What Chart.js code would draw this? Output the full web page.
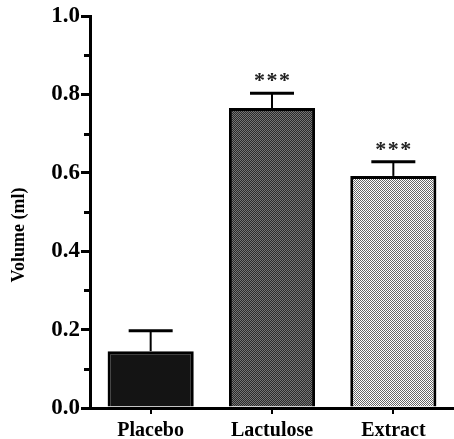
<!DOCTYPE html>
<html>
<head>
<meta charset="utf-8">
<script src="https://cdn.jsdelivr.net/npm/chart.js@4"></script>
<style>
  html, body { margin: 0; padding: 0; background: #fff; }
  #wrap { width: 454px; height: 439px; }
</style>
</head>
<body>
<div id="wrap"><canvas id="volumeChart" width="454" height="439"></canvas></div>
<script>
const groups = ["Placebo", "Lactulose", "Extract"];
const volumes = [0.145, 0.765, 0.592];
const errors = [0.052, 0.038, 0.036];
const marks = ["", "***", "***"];
const yTicks = [0, 0.2, 0.4, 0.6, 0.8, 1.0];
const yTitle = "Volume (ml)";

function makePattern(a, b) {
  const c = document.createElement("canvas");
  c.width = 2;
  c.height = 2;
  const g = c.getContext("2d");
  g.fillStyle = a;
  g.fillRect(0, 0, 2, 2);
  g.fillStyle = b;
  g.fillRect(0, 0, 1, 1);
  g.fillRect(1, 1, 1, 1);
  return g.createPattern(c, "repeat");
}

const fills = [
  "#141414",
  makePattern("#2a2a2a", "#747474"),
  makePattern("#ffffff", "#666666"),
];

const serif = "'Liberation Serif', 'Times New Roman', serif";

const extrasPlugin = {
  id: "extras",
  afterDatasetsDraw(chart) {
    const ctx = chart.ctx;
    const x = chart.scales.x;
    const y = chart.scales.y;
    const area = chart.chartArea;
    ctx.save();
    ctx.strokeStyle = "#000";

    // y title, sits a bit below the axis middle like the original
    ctx.save();
    ctx.translate(19, 235);
    ctx.rotate(-Math.PI / 2);
    ctx.fillStyle = "#000";
    ctx.font = "bold 18px " + serif;
    ctx.textAlign = "center";
    ctx.textBaseline = "middle";
    ctx.fillText(yTitle, 0, 0);
    ctx.restore();

    // minor ticks on the y axis
    ctx.lineWidth = 3;
    for (let v = 0.1; v < 1; v += 0.2) {
      const py = Math.round(y.getPixelForValue(v)) + 0.5;
      ctx.beginPath();
      ctx.moveTo(area.left - 6, py);
      ctx.lineTo(area.left, py);
      ctx.stroke();
    }

    // error bars and significance marks
    volumes.forEach((val, i) => {
      const cx = x.getPixelForValue(i);
      const top = y.getPixelForValue(val);
      const hi = y.getPixelForValue(val + errors[i]);
      ctx.lineWidth = 2;
      ctx.beginPath();
      ctx.moveTo(cx, top);
      ctx.lineTo(cx, hi);
      ctx.stroke();
      ctx.lineWidth = 3;
      ctx.beginPath();
      ctx.moveTo(cx - 22, hi);
      ctx.lineTo(cx + 22, hi);
      ctx.stroke();
      if (marks[i]) {
        ctx.fillStyle = "#222";
        ctx.font = "bold 22px " + serif;
        ctx.textAlign = "center";
        ctx.textBaseline = "middle";
        [-12.5, 0, 12.5].forEach((dx) => {
          ctx.fillText("*", cx + dx, hi - 12);
        });
      }
    });

    // small ticks below x axis
    ctx.lineWidth = 2;
    groups.forEach((_, i) => {
      const cx = Math.round(x.getPixelForValue(i));
      ctx.beginPath();
      ctx.moveTo(cx, area.bottom);
      ctx.lineTo(cx, area.bottom + 6);
      ctx.stroke();
    });
    ctx.restore();
  },
};

new Chart(document.getElementById("volumeChart"), {
  type: "bar",
  data: {
    labels: groups,
    datasets: [
      {
        data: volumes,
        backgroundColor: fills,
        borderColor: "#000",
        borderWidth: 3,
        borderSkipped: "bottom",
        categoryPercentage: 1,
        barPercentage: 0.71,
      },
    ],
  },
  options: {
    responsive: false,
    animation: false,
    layout: { padding: { top: 16, right: 0, left: 0, bottom: 0 } },
    plugins: { legend: { display: false }, tooltip: { enabled: false } },
    scales: {
      x: {
        afterFit: (s) => { s.height = 31; },
        grid: { display: false },
        border: { color: "#000", width: 3 },
        ticks: {
          color: "#000",
          padding: 3,
          font: { family: serif, size: 20, weight: "bold" },
        },
      },
      y: {
        min: 0,
        max: 1,
        afterFit: (s) => { s.width = 90; },
        afterBuildTicks: (s) => { s.ticks = yTicks.map((v) => ({ value: v })); },
        grid: {
          drawOnChartArea: false,
          tickLength: 9,
          lineWidth: 3,
          color: "#000",
        },
        border: { color: "#000", width: 3 },
        ticks: {
          color: "#000",
          padding: 1,
          callback: (v) => Number(v).toFixed(1),
          font: { family: serif, size: 23, weight: "bold" },
        },
      },
    },
  },
  plugins: [extrasPlugin],
});
</script>
</body>
</html>
